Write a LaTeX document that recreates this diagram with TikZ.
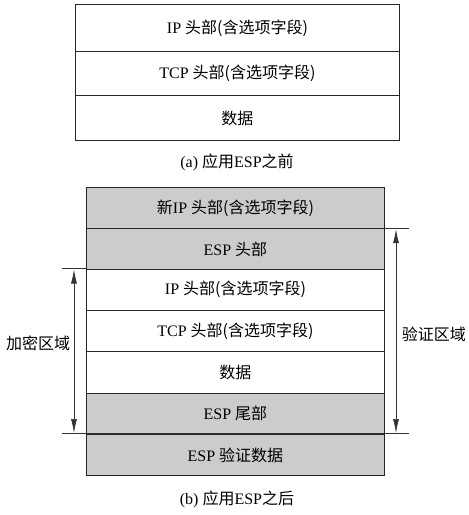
\documentclass[tikz,border=0pt]{standalone}
\usepackage{fontspec}
\setmainfont{Liberation Serif}
\newfontfamily\cjk{Noto Sans CJK SC}
\usetikzlibrary{arrows.meta}
\definecolor{shade}{HTML}{CCCCCC}
\begin{document}
\begin{tikzpicture}[x=1pt,y=-1pt,
  cell/.style={draw=black!85,line width=0.9pt,minimum width=#1,minimum height=41.3pt,inner sep=0pt,anchor=north west,font=\fontsize{16}{18}\selectfont},
  gcell/.style={cell=#1,fill=shade},
  wcell/.style={cell=#1,fill=white},
  lab/.style={font=\fontsize{16}{18}\selectfont,inner sep=0pt},
  ln/.style={draw=black!80,line width=0.7pt},
  arr/.style={ln,{Latex[length=14pt,width=6pt]}-{Latex[length=14pt,width=6pt]}}]
\useasboundingbox (0,0) rectangle (469,515);
% (a)
\node[cell=324pt,minimum height=47pt] (a1) at (75,4) {IP \cjk 头部(含选项字段)};
\node[cell=324pt,minimum height=44pt] (a2) at (75,51) {TCP \cjk 头部(含选项字段)};
\node[cell=324pt,minimum height=45pt] (a3) at (75,95) {\cjk 数据};
\node[lab] (capa) at (237,162) {(a) {\cjk 应用}ESP{\cjk 之前}};
% (b)
\node[gcell=298pt] (b1) at (86,187) {{\cjk 新}IP \cjk 头部(含选项字段)};
\node[gcell=298pt] (b2) at (86,228.3) {ESP \cjk 头部};
\node[wcell=298pt] (b3) at (86,268.6) {IP \cjk 头部(含选项字段)};
\node[wcell=298pt] (b4) at (86,309.9) {TCP \cjk 头部(含选项字段)};
\node[wcell=298pt] (b5) at (86,351.2) {\cjk 数据};
\node[gcell=298pt] (b6) at (86,392.5) {ESP \cjk 尾部};
\node[gcell=298pt] (b7) at (86,433.8) {ESP \cjk 验证数据};
\node[lab] (capb) at (237,499) {(b) {\cjk 应用}ESP{\cjk 之后}};
% guides
\coordinate (lt) at (62,268.6);
\coordinate (bl) at (62,433.8);
\coordinate (br) at (409,433.8);
\coordinate (rt) at (409,228.3);
\draw[ln] (lt) -- (b3.north west);
\draw[ln] (bl) -- (br);
\draw[ln] (b2.north east) -- (rt);
\draw[arr] (74,269.5) -- (74,433);
\draw[arr] (396,229.2) -- (396,433);
\node[lab,anchor=west] (enc) at (6,343) {\cjk 加密区域};
\node[lab,anchor=east] (auth) at (466,334) {\cjk 验证区域};
\end{tikzpicture}
\end{document}
